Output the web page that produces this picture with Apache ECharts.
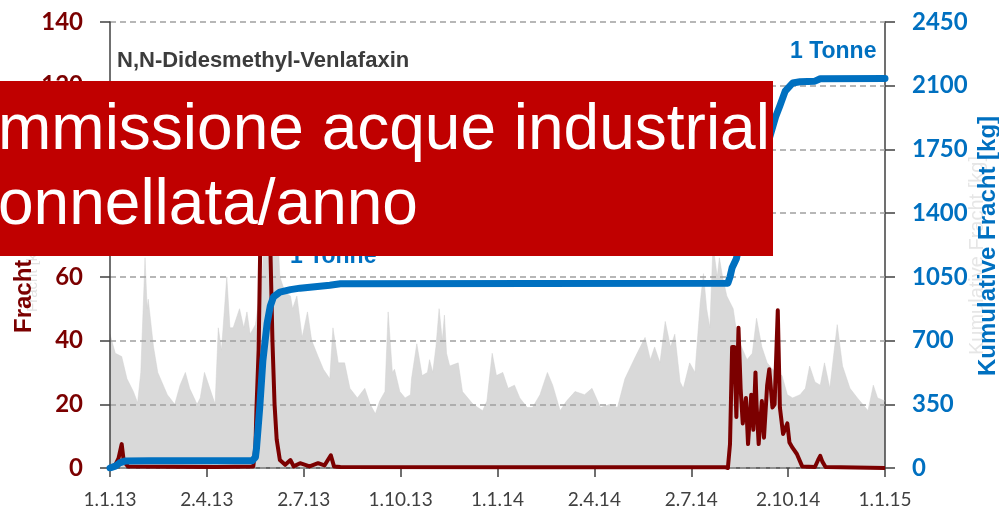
<!DOCTYPE html>
<html>
<head>
<meta charset="utf-8">
<title>N,N-Didesmethyl-Venlafaxin</title>
<script src="https://cdn.jsdelivr.net/npm/echarts@6/dist/echarts.min.js"></script>
<style>
  html, body { margin: 0; padding: 0; background: #fff; }
  #chart { width: 999px; height: 510px; }
</style>
</head>
<body>
<div id="chart"></div>
<script>
// x axis: days since 1.1.13, ticks every 91.25 days (Excel date axis)
const xTickLabels = ['1.1.13', '2.4.13', '2.7.13', '1.10.13', '1.1.14', '2.4.14', '2.7.14', '2.10.14', '1.1.15'];
const dayMax = 730;

// grey background (discharge), drawn in left-axis units
const abfluss = [
  [0, 42], [5, 36], [11, 35], [16, 28], [22, 24], [26, 20.5], [29, 30], [33, 66], [35, 50], [36, 53],
  [41, 38], [45, 30], [54, 23], [61, 20], [66, 26], [71, 30], [75, 25], [82, 20], [85, 22], [89, 30],
  [94, 25], [99, 20], [102, 44], [105, 37], [110, 60], [113, 44], [116, 44], [122, 50], [126, 44], [129, 49],
  [132, 42], [137, 45], [139, 50], [143, 58], [146, 78], [149, 70], [152, 88], [154, 75], [157, 80], [160, 60],
  [165, 55], [170, 54], [172, 50], [176, 54], [181, 41], [186, 49], [190, 40], [196, 35], [201, 31], [207, 28],
  [210, 44], [215, 33], [221, 33], [226, 25], [233, 22], [240, 25], [245, 20], [250, 17], [254, 21], [259, 24],
  [262, 49], [266, 30], [268, 31], [273, 24], [278, 22], [283, 23], [284, 28], [289, 39], [294, 29], [299, 30],
  [301, 34], [304, 30], [307, 38], [310, 50], [313, 40], [315, 48], [317, 36], [320, 32], [328, 33], [332, 24],
  [342, 20], [351, 18], [355, 21], [360, 36], [364, 29], [370, 30], [375, 25], [381, 26], [386, 22], [393, 19],
  [398, 19], [405, 23], [412, 30], [417, 26], [424, 18], [430, 21], [438, 24], [447, 23], [454, 25], [462, 19],
  [471, 20], [478, 19], [485, 28], [495, 35], [504, 41], [509, 34], [513, 38], [518, 33], [523, 46], [528, 38],
  [532, 42], [537, 27], [540, 25], [546, 33], [551, 30], [556, 52], [559, 61], [562, 50], [565, 44], [568, 70],
  [572, 60], [574, 66], [577, 60], [581, 54], [587, 50], [591, 41], [600, 34], [605, 36], [609, 47], [614, 38],
  [619, 33], [624, 31], [628, 30], [633, 29], [638, 23], [643, 22], [650, 23], [655, 25], [659, 32], [664, 27],
  [669, 26], [673, 33], [678, 25], [685, 45], [690, 32], [697, 25], [704, 22], [709, 20], [714, 18], [719, 26],
  [723, 22], [730, 21]
];

// daily load (left axis)
const fracht = [
  [0, 0], [5, 1], [8, 3], [11, 7.5], [13, 2], [17, 0.5], [60, 0.4], [100, 0.3], [135, 0.5], [137, 7],
  [138, 19], [140, 37], [142, 80], [144, 105], [145, 90], [147, 112], [148, 95], [150, 108], [151, 70], [153, 40],
  [155, 20], [157, 9], [160, 2.5], [165, 1], [170, 2.5], [173, 0.5], [179, 1.5], [188, 0.5], [196, 1.5], [202, 0.8],
  [208, 4], [211, 0.5], [217, 0.3], [400, 0.2], [580, 0.2], [582, 0], [584, 7.5], [586, 38], [588, 38], [590, 16],
  [592, 44], [594, 25], [596, 14], [599, 22], [601, 7.5], [604, 23], [606, 12], [608, 30], [609, 20], [611, 7.5],
  [614, 21], [616, 9.5], [619, 26], [621, 31], [624, 19], [626, 20], [629, 49.5], [631, 19], [634, 10.7], [638, 14],
  [640, 8], [643, 6.3], [647, 4.4], [652, 0.5], [664, 0.3], [667, 2.5], [669, 3.8], [671, 2], [674, 0.3], [730, 0]
];

// cumulative load in kg (right axis)
const kumulativ = [
  [0, 0], [5, 10], [9, 28], [14, 38], [38, 40], [134, 40], [137, 60], [138, 110], [141, 330], [144, 590],
  [148, 795], [151, 890], [154, 940], [160, 966], [170, 980], [179, 988], [207, 1004], [217, 1012], [582, 1015], [584, 1050],
  [586, 1100], [590, 1150], [593, 1230], [603, 1450], [612, 1640], [622, 1830], [627, 1930], [631, 1990], [636, 2070], [643, 2115],
  [650, 2122], [664, 2125], [669, 2138], [730, 2140]
];

const darkRed = '#7b0000';
const blue = '#0070c0';
const axisColor = '#404040';

const chart = echarts.init(document.getElementById('chart'));
chart.setOption({
  animation: false,
  grid: { left: 110, right: 114, top: 22, bottom: 42 },
  xAxis: {
    type: 'value', min: 0, max: dayMax, interval: dayMax / 8,
    axisLine: { lineStyle: { color: axisColor, width: 1.5 } },
    axisTick: { length: 9, lineStyle: { color: axisColor, width: 1.5 } },
    axisLabel: {
      margin: 22, color: axisColor, fontSize: 19, fontFamily: 'Lato',
      formatter: v => xTickLabels[Math.round(v / (dayMax / 8))]
    },
    splitLine: { show: false }
  },
  yAxis: [
    {
      type: 'value', min: 0, max: 140, interval: 20, z: 1,
      axisLine: { show: true, lineStyle: { color: axisColor, width: 1.5 } },
      axisTick: { show: true, length: 10, lineStyle: { color: axisColor, width: 1.5 } },
      axisLabel: { margin: 27, color: darkRed, fontSize: 24, fontWeight: 'bold', fontFamily: 'Lato' },
      splitLine: { lineStyle: { color: '#a0a0a0', width: 1.5, type: [6, 4] } }
    },
    {
      type: 'value', min: 0, max: 2450, interval: 350, position: 'right',
      axisLine: { show: true, lineStyle: { color: axisColor, width: 1.5 } },
      axisTick: { show: true, length: 10, lineStyle: { color: axisColor, width: 1.5 } },
      axisLabel: {
        margin: 27, color: blue, fontSize: 24, fontWeight: 'bold', fontFamily: 'Lato',
        formatter: v => String(v)
      },
      splitLine: { show: false }
    }
  ],
  series: [
    {
      name: 'Abfluss', type: 'line', data: abfluss, yAxisIndex: 0, z: 0,
      symbol: 'none', silent: true,
      lineStyle: { width: 0.5, color: '#d0d0d0' },
      areaStyle: { color: '#d9d9d9', opacity: 1 }
    },
    {
      name: 'Fracht', type: 'line', data: fracht, yAxisIndex: 0,
      symbol: 'none', lineStyle: { width: 4, color: darkRed, join: 'round' }
    },
    {
      name: 'Kumulative Fracht', type: 'line', data: kumulativ, yAxisIndex: 1,
      symbol: 'none', lineStyle: { width: 7, color: blue, cap: 'round', join: 'round' }
    }
  ],
  graphic: [
    // faint duplicate axis titles behind the real ones
    { type: 'text', x: 33, y: 312, rotation: Math.PI / 2,
      style: { text: 'Fracht [kg/d]', font: '15px "Liberation Sans"', fill: '#e2e2e2', align: 'left', verticalAlign: 'middle' } },
    { type: 'text', x: 977, y: 355, rotation: Math.PI / 2,
      style: { text: 'Kumulative Fracht [kg]', font: '20px "Liberation Sans"', fill: '#e6e6e6', align: 'left', verticalAlign: 'middle' } },
    { type: 'text', x: 24, y: 333, rotation: Math.PI / 2,
      style: { text: 'Fracht [kg/d]', font: 'bold 24px "Liberation Sans"', fill: darkRed, align: 'left', verticalAlign: 'middle' } },
    { type: 'text', x: 988, y: 376, rotation: Math.PI / 2,
      style: { text: 'Kumulative Fracht [kg]', font: 'bold 24px "Liberation Sans"', fill: blue, align: 'left', verticalAlign: 'middle' } },
    { type: 'text', x: 117, y: 61,
      style: { text: 'N,N-Didesmethyl-Venlafaxin', font: 'bold 22px "Liberation Sans"', fill: '#3c3c3c', verticalAlign: 'middle' } },
    { type: 'text', x: 790, y: 52, z: 10,
      style: { text: '1 Tonne', font: 'bold 23px "Liberation Sans"', fill: blue, verticalAlign: 'middle' } },
    { type: 'text', x: 290, y: 257, z: 10,
      style: { text: '1 Tonne', font: 'bold 23px "Liberation Sans"', fill: blue, verticalAlign: 'middle' } },
    // red banner laid over the chart
    { type: 'rect', z: 20, shape: { x: 0, y: 81, width: 773, height: 175 }, style: { fill: '#c00000' } },
    { type: 'text', z: 21, x: -2, y: 131,
      style: { text: 'mmissione acque industrial', font: '64px "Liberation Sans"', fill: '#fff', verticalAlign: 'middle' } },
    { type: 'text', z: 21, x: -2, y: 206,
      style: { text: 'onnellata/anno', font: '64px "Liberation Sans"', fill: '#fff', verticalAlign: 'middle' } }
  ]
});
</script>
</body>
</html>
